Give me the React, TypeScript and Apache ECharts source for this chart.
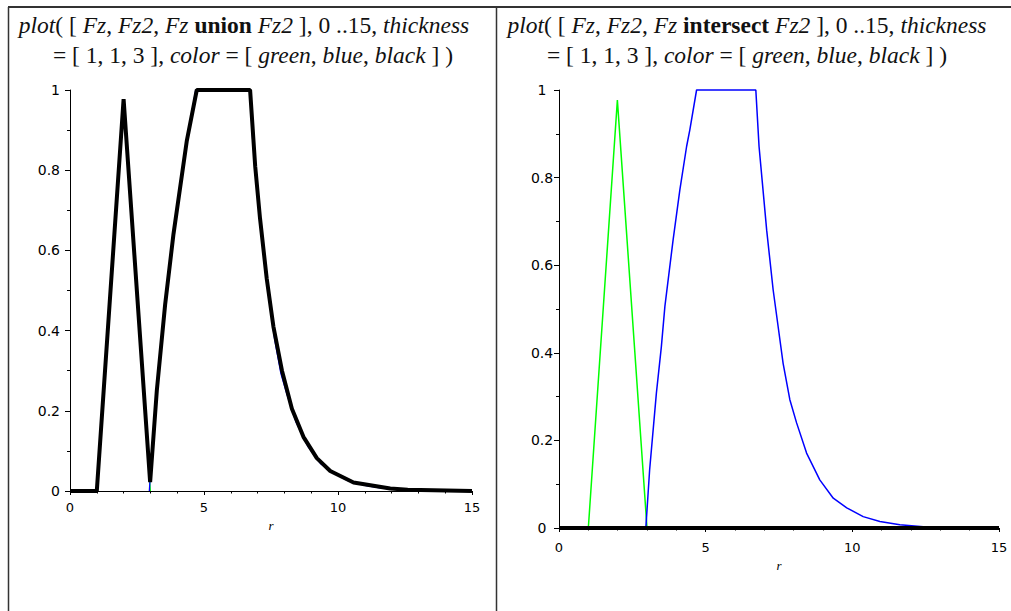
import React, { useEffect, useRef } from "react";
import * as echarts from "echarts";

// Fz (triangular)
const fzR = [0, 1, 1.99, 3, 15];
const fzV = [0, 0, 0.977, 0, 0];

// Fz2
const fz2R = [0, 2.96, 3.09, 3.32, 3.49, 3.61, 3.89, 4.12, 4.35, 4.46, 4.69, 6.71, 6.82, 7.08, 7.3, 7.47, 7.64, 7.87, 8.1, 8.44, 8.89, 9.35, 9.81, 10.37, 10.94, 11.62, 12.42, 13.5, 15];
const fz2V = [0, 0, 0.133, 0.308, 0.414, 0.506, 0.658, 0.772, 0.871, 0.909, 1, 1, 0.871, 0.68, 0.544, 0.46, 0.376, 0.293, 0.24, 0.171, 0.11, 0.068, 0.046, 0.026, 0.015, 0.0075, 0.003, 0, 0];

// Fz union Fz2
const unionR = [0, 1, 2, 2.99, 3.24, 3.55, 3.86, 4.36, 4.73, 6.72, 6.91, 7.09, 7.34, 7.59, 7.91, 8.28, 8.71, 9.21, 9.71, 10.58, 11.95, 12.6, 15];
const unionV = [0, 0, 0.977, 0.022, 0.251, 0.465, 0.64, 0.874, 1, 1, 0.81, 0.68, 0.53, 0.41, 0.3, 0.205, 0.135, 0.082, 0.05, 0.021, 0.006, 0.003, 0];

// Fz intersect Fz2
const interR = [0, 15];
const interV = [0, 0];

const xTicks = { min: 0, max: 15, interval: 5 };
const yTicks = { min: 0, max: 1, interval: 0.2 };

const zip = (a: number[], b: number[]) => a.map((v, i) => [v, b[i]]);
// keep only the part of a curve that leaves the r-axis (the rest lies under the axis line)
const raised = (pts: number[][]) => {
  const first = pts.findIndex((p) => p[1] > 0);
  let last = pts.length - 1;
  while (last > 0 && pts[last][1] === 0 && pts[last - 1][1] === 0) last--;
  return pts.slice(Math.max(0, first - 1), last + 1);
};

const SERIF = "'Liberation Serif', 'Times New Roman', serif";
const SANS = "'DejaVu Sans', sans-serif";
const TITLE_SIZE = 23.5;

function rich(size: number) {
  return {
    r: { fontFamily: SERIF, fontSize: size, fill: "#111", color: "#111" },
    i: { fontFamily: SERIF, fontSize: size, fontStyle: "italic", fill: "#111", color: "#111" },
    b: { fontFamily: SERIF, fontSize: size, fontWeight: "bold", fill: "#111", color: "#111" },
  };
}

function titleText(x: number, y: number, text: string) {
  return {
    type: "text",
    x,
    y,
    style: {
      text,
      rich: rich(TITLE_SIZE),
      fontFamily: SERIF,
      fontSize: TITLE_SIZE,
      fill: "#111",
      align: "center",
      verticalAlign: "middle",
    },
  };
}

function xAxis(gridIndex: number, labelSize: number, nameGap: number, margin: number) {
  return {
    gridIndex,
    type: "value",
    z: 3,
    min: xTicks.min,
    max: xTicks.max,
    interval: xTicks.interval,
    axisLine: { show: true, onZero: false, lineStyle: { color: "#000", width: 1 } },
    axisTick: { show: true, length: 4, lineStyle: { color: "#000" } },
    minorTick: { show: true, splitNumber: 5, length: 2.5, lineStyle: { color: "#000" } },
    splitLine: { show: false },
    axisLabel: { color: "#000", fontFamily: SANS, fontSize: labelSize, margin },
    name: "r",
    nameLocation: "middle",
    nameGap,
    nameTextStyle: { fontFamily: SERIF, fontStyle: "italic", fontSize: 13, color: "#000" },
  };
}

function yAxis(gridIndex: number, labelSize: number, align: string, margin: number) {
  return {
    gridIndex,
    type: "value",
    z: 3,
    min: yTicks.min,
    max: yTicks.max,
    interval: yTicks.interval,
    axisLine: { show: true, onZero: false, lineStyle: { color: "#000", width: 1 } },
    axisTick: { show: true, length: 5, lineStyle: { color: "#000" } },
    minorTick: { show: true, splitNumber: 2, length: 3, lineStyle: { color: "#000" } },
    splitLine: { show: false },
    axisLabel: { color: "#000", fontFamily: SANS, fontSize: labelSize, align, margin },
  };
}

function line(name: string, data: number[][], idx: number, color: string, width: number) {
  return {
    name,
    type: "line",
    xAxisIndex: idx,
    yAxisIndex: idx,
    data,
    showSymbol: false,
    symbol: "none",
    clip: false,
    lineStyle: { color, width },
    emphasis: { disabled: true },
  };
}

export default function App() {
  const ref = useRef<HTMLDivElement>(null);
  useEffect(() => {
    if (!ref.current) return;
    const chart = echarts.init(ref.current, undefined, { renderer: "svg" });
    const fz = zip(fzR, fzV);
    const fz2 = zip(fz2R, fz2V);
    chart.setOption({
      animation: false,
      backgroundColor: "#fff",
      grid: [
        { left: 70, top: 90, width: 402, height: 401, containLabel: false },
        { left: 559, top: 90, width: 440, height: 438, containLabel: false },
      ],
      xAxis: [xAxis(0, 13, 19, 10), xAxis(1, 13, 30, 13)],
      yAxis: [yAxis(0, 14, "right", 10), yAxis(1, 14, "center", 17)],
      series: [
        line("Fz", raised(fz), 0, "#00ff00", 1.3),
        line("Fz2", raised(fz2), 0, "#0000ff", 1.3),
        line("Fz union Fz2", zip(unionR, unionV), 0, "#000", 4),
        line("Fz", fz, 1, "#00ff00", 1.5),
        line("Fz2", fz2, 1, "#0000ff", 1.5),
        line("Fz intersect Fz2", zip(interR, interV), 1, "#000", 4),
      ],
      graphic: [
        { type: "line", shape: { x1: 8, y1: 7, x2: 1011, y2: 7 }, style: { stroke: "#333", lineWidth: 2 } },
        { type: "line", shape: { x1: 8.5, y1: 7, x2: 8.5, y2: 611 }, style: { stroke: "#333", lineWidth: 1.5 } },
        { type: "line", shape: { x1: 496.5, y1: 7, x2: 496.5, y2: 611 }, style: { stroke: "#333", lineWidth: 1.5 } },
        titleText(244, 25, "{i|plot}{r|( [ }{i|Fz}{r|, }{i|Fz2}{r|, }{i|Fz }{b|union }{i|Fz2}{r| ], 0 ..15, }{i|thickness}"),
        titleText(253, 55, "{r|= [ 1, 1, 3 ], }{i|color}{r| = [ }{i|green}{r|, }{i|blue}{r|, }{i|black}{r| ] )}"),
        titleText(747, 25, "{i|plot}{r|( [ }{i|Fz}{r|, }{i|Fz2}{r|, }{i|Fz }{b|intersect }{i|Fz2}{r| ], 0 ..15, }{i|thickness}"),
        titleText(747, 55, "{r|= [ 1, 1, 3 ], }{i|color}{r| = [ }{i|green}{r|, }{i|blue}{r|, }{i|black}{r| ] )}"),
      ],
    });
    return () => chart.dispose();
  }, []);
  return (
    <div
      ref={ref}
      style={{ position: "absolute", left: 0, top: 0, width: 1011, height: 611, background: "#fff" }}
    />
  );
}
